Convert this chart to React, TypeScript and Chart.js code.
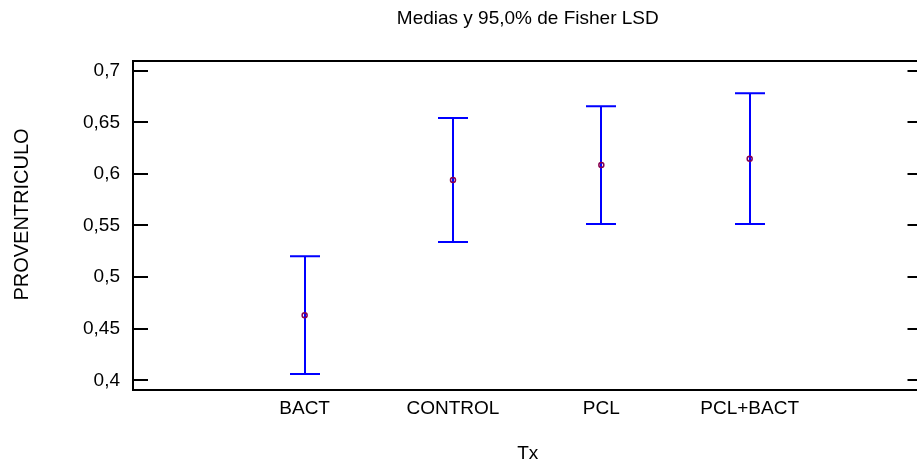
import React, { useEffect, useRef } from 'react';
import { Chart, registerables } from 'chart.js';

Chart.register(...registerables);

const categories = ['BACT', 'CONTROL', 'PCL', 'PCL+BACT'];
const means = [0.463, 0.594, 0.6086, 0.6147];
const lower = [0.4061, 0.534, 0.5515, 0.5515];
const upper = [0.5202, 0.6542, 0.6655, 0.6781];
const yTickValues = [0.4, 0.45, 0.5, 0.55, 0.6, 0.65, 0.7];
const yTickLabels = ['0,4', '0,45', '0,5', '0,55', '0,6', '0,65', '0,7'];
const yAxisTitle = 'PROVENTRICULO';

const FONT = "'Liberation Sans', Arial, sans-serif";

const errorBarPlugin = {
  id: 'errorBars',
  beforeDatasetsDraw(chart: any) {
    const { ctx, scales } = chart;
    const xs = scales.x;
    const ys = scales.y;
    ctx.save();
    ctx.strokeStyle = '#0000FF';
    ctx.lineWidth = 2;
    categories.forEach((_, i) => {
      const x = Math.round(xs.getPixelForValue(i));
      const yl = ys.getPixelForValue(lower[i]);
      const yu = ys.getPixelForValue(upper[i]);
      ctx.beginPath();
      ctx.moveTo(x, yu);
      ctx.lineTo(x, yl);
      ctx.moveTo(x - 15, yu);
      ctx.lineTo(x + 15, yu);
      ctx.moveTo(x - 15, yl);
      ctx.lineTo(x + 15, yl);
      ctx.stroke();
    });
    ctx.restore();
  },
};

const framePlugin = {
  id: 'frame',
  afterDraw(chart: any) {
    const { ctx, chartArea, scales } = chart;
    const { left, right, top, bottom } = chartArea;
    ctx.save();
    ctx.strokeStyle = '#000';
    ctx.lineWidth = 2;
    ctx.strokeRect(left, top, right - left, bottom - top);
    ctx.beginPath();
    yTickValues.forEach((v) => {
      const y = Math.round(scales.y.getPixelForValue(v));
      ctx.moveTo(left, y);
      ctx.lineTo(left + 15, y);
      ctx.moveTo(right - 15, y);
      ctx.lineTo(right, y);
    });
    ctx.stroke();
    // y axis title
    ctx.fillStyle = '#000';
    ctx.font = `20px ${FONT}`;
    ctx.textAlign = 'center';
    ctx.textBaseline = 'middle';
    ctx.translate(22, (top + bottom) / 2 - 11);
    ctx.rotate(-Math.PI / 2);
    ctx.fillText(yAxisTitle, 0, 0);
    ctx.restore();
  },
};

export default function App() {
  const ref = useRef<HTMLCanvasElement | null>(null);

  useEffect(() => {
    if (!ref.current) return;
    const chart = new Chart(ref.current, {
      type: 'scatter',
      data: {
        datasets: [
          {
            data: means.map((m, i) => ({ x: i, y: m })),
            pointRadius: 2.5,
            pointBorderWidth: 1.5,
            borderColor: '#880050',
            backgroundColor: 'rgba(0,0,0,0)',
            showLine: false,
          },
        ],
      },
      options: {
        animation: false,
        responsive: false,
        devicePixelRatio: 1,
        layout: { padding: { left: 0, right: 1, top: 0, bottom: 0 } },
        plugins: {
          legend: { display: false },
          tooltip: { enabled: false },
          title: {
            display: true,
            text: 'Medias y 95,0% de Fisher LSD',
            color: '#000',
            fullSize: false,
            font: { family: FONT, size: 19, weight: 'normal' },
            padding: { top: 7.6, bottom: 30.6 },
          },
        },
        scales: {
          x: {
            type: 'linear',
            min: -1.157,
            max: 4.165,
            grid: { display: false, drawTicks: false },
            border: { display: false },
            afterBuildTicks: (scale: any) => {
              scale.ticks = categories.map((_, i) => ({ value: i }));
            },
            afterFit: (scale: any) => {
              scale.height = 79;
            },
            ticks: {
              autoSkip: false,
              maxRotation: 0,
              padding: 7.6,
              color: '#000',
              font: { family: FONT, size: 19 },
              callback: (v: any) => categories[v as number] ?? '',
            },
            title: {
              display: true,
              text: 'Tx',
              color: '#000',
              font: { family: FONT, size: 19 },
              padding: { top: 0, bottom: 4 },
            },
          },
          y: {
            type: 'linear',
            min: 0.3906,
            max: 0.7094,
            grid: { display: false, drawTicks: false },
            border: { display: false },
            afterBuildTicks: (scale: any) => {
              scale.ticks = yTickValues.map((v) => ({ value: v }));
            },
            afterFit: (scale: any) => {
              scale.width = 133;
            },
            ticks: {
              padding: 13,
              color: '#000',
              font: { family: FONT, size: 19 },
              callback: (_v: any, i: number) => yTickLabels[i],
            },
          },
        },
      },
      plugins: [errorBarPlugin, framePlugin],
    } as any);
    return () => chart.destroy();
  }, []);

  return (
    <div
      style={{
        position: 'fixed',
        left: 0,
        top: 0,
        width: 917,
        height: 469,
        overflow: 'hidden',
        background: '#fff',
      }}
    >
      <canvas ref={ref} width={928} height={469} style={{ display: 'block' }} />
    </div>
  );
}
